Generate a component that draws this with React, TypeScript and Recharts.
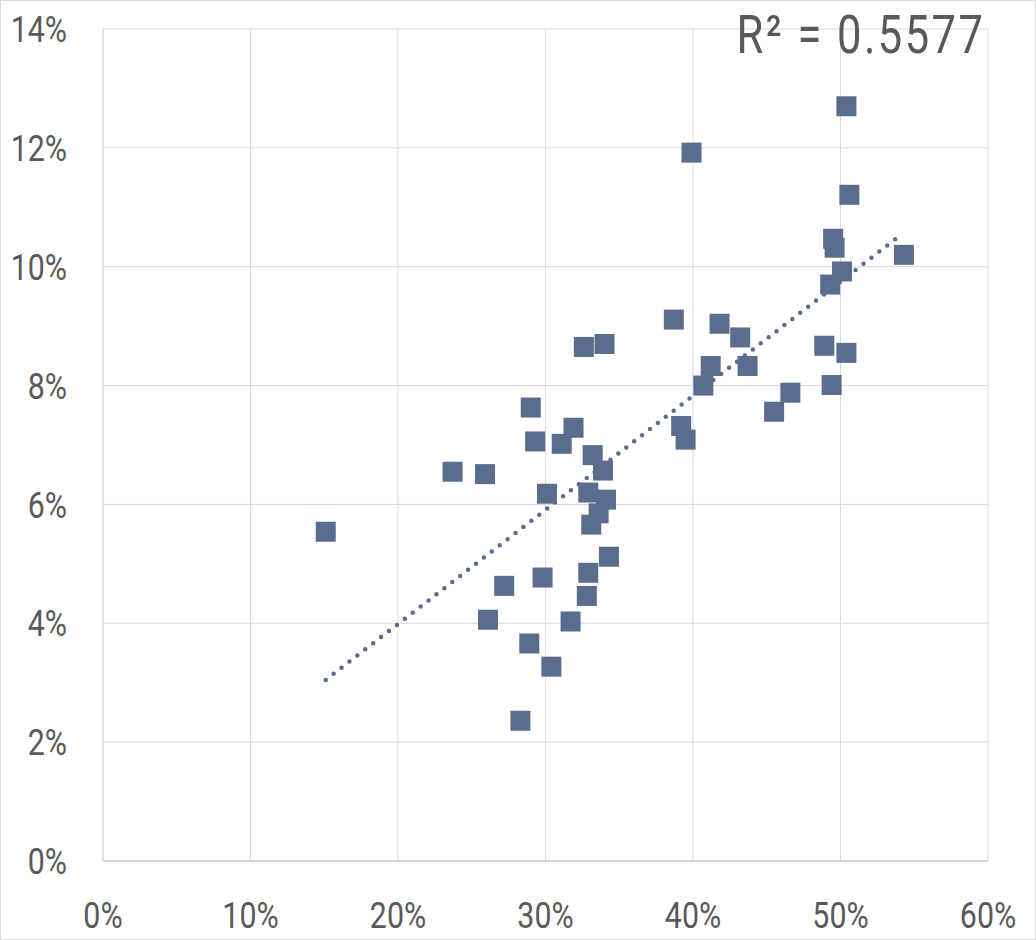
import React from "react";
import {
  ScatterChart,
  Scatter,
  XAxis,
  YAxis,
  CartesianGrid,
  ReferenceLine,
} from "recharts";

// values in percent
const xValues = [
  15.1, 23.7, 25.9, 26.1, 27.2, 28.3, 28.9, 29.0, 29.3, 29.8, 30.1, 30.4,
  31.1, 31.7, 31.9, 32.6, 32.8, 32.9, 32.9, 33.1, 33.2, 33.6, 33.9, 34.0,
  34.1, 34.3, 38.7, 39.2, 39.5, 39.9, 40.7, 41.2, 41.8, 43.2, 43.7, 45.5,
  46.6, 48.9, 49.3, 49.4, 49.5, 49.6, 50.1, 50.4, 50.4, 50.6, 54.3,
];
const yValues = [
  5.54, 6.55, 6.51, 4.06, 4.63, 2.36, 3.66, 7.63, 7.06, 4.77, 6.18, 3.27,
  7.02, 4.03, 7.29, 8.65, 4.46, 6.20, 4.85, 5.66, 6.83, 5.85, 6.57, 8.70,
  6.08, 5.12, 9.11, 7.32, 7.09, 11.92, 8.00, 8.33, 9.04, 8.81, 8.33, 7.56,
  7.88, 8.67, 9.70, 8.01, 10.47, 10.32, 9.92, 8.55, 12.70, 11.21, 10.20,
];
const xTicks = [0, 10, 20, 30, 40, 50, 60];
const yTicks = [0, 2, 4, 6, 8, 10, 12, 14];
const rSquaredLabel = "R² = 0.5577";

const points = xValues.map((x, i) => ({ x, y: yValues[i] }));

// linear least-squares trendline over the points
const n = points.length;
const meanX = xValues.reduce((a, b) => a + b, 0) / n;
const meanY = yValues.reduce((a, b) => a + b, 0) / n;
let sxy = 0;
let sxx = 0;
points.forEach((p) => {
  sxy += (p.x - meanX) * (p.y - meanY);
  sxx += (p.x - meanX) * (p.x - meanX);
});
const slope = sxy / sxx;
const intercept = meanY - slope * meanX;
const minX = Math.min(...xValues);
const maxX = Math.max(...xValues);
const trend = [
  { x: minX, y: intercept + slope * minX },
  { x: maxX - 0.3, y: intercept + slope * (maxX - 0.3) },
];

const COLOR = "#5a6d8e";
const TEXT = "#595959";
const FONT = "Roboto, 'DejaVu Sans', sans-serif";
const SQUEEZE = 0.82;

const SquareDot = (props: any) => {
  const { cx, cy } = props;
  if (cx == null || cy == null) return null;
  return <rect x={cx - 10} y={cy - 10} width={20} height={20} fill={COLOR} />;
};

// condensed tick text (the original uses a DIN-like narrow face)
const XTick = (props: any) => {
  const { x, y, payload } = props;
  return (
    <text
      transform={`translate(${x},${y}) scale(${SQUEEZE},1)`}
      textAnchor="middle"
      dy="0.71em"
      fontSize={37}
      fontFamily={FONT}
      fill={TEXT}
    >
      {`${payload.value}%`}
    </text>
  );
};

const YTick = (props: any) => {
  const { x, y, payload } = props;
  return (
    <text
      transform={`translate(${x},${y}) scale(${SQUEEZE},1)`}
      textAnchor="end"
      dy="0.355em"
      fontSize={37}
      fontFamily={FONT}
      fill={TEXT}
    >
      {`${payload.value}%`}
    </text>
  );
};

export default function App() {
  return (
    <div
      style={{
        position: "absolute",
        left: 0,
        top: 0,
        width: 1036,
        height: 940,
        background: "#fff",
        fontFamily: FONT,
      }}
    >
      <ScatterChart
        width={1036}
        height={940}
        margin={{ top: 29, right: 48, left: 0, bottom: 0 }}
      >
        <CartesianGrid stroke="#d9d9d9" strokeWidth={1} />
        <XAxis
          type="number"
          dataKey="x"
          domain={[0, 60]}
          ticks={xTicks}
          height={79}
          tickLine={false}
          tickSize={0}
          tickMargin={41}
          axisLine={{ stroke: "#bfbfbf" }}
          tick={<XTick />}
        />
        <YAxis
          type="number"
          dataKey="y"
          domain={[0, 14]}
          ticks={yTicks}
          width={103}
          tickLine={false}
          tickSize={0}
          tickMargin={36}
          axisLine={{ stroke: "#d9d9d9" }}
          tick={<YTick />}
        />
        <ReferenceLine
          segment={trend}
          stroke={COLOR}
          strokeWidth={4.5}
          strokeDasharray="0 10"
          strokeLinecap="round"
          ifOverflow="visible"
        />
        <Scatter
          data={points}
          shape={SquareDot}
          fill={COLOR}
          isAnimationActive={false}
        />
      </ScatterChart>
      <div
        style={{
          position: "absolute",
          right: 51,
          top: 4,
          fontSize: 53,
          lineHeight: "62px",
          letterSpacing: 3,
          color: TEXT,
          whiteSpace: "nowrap",
          transform: `scaleX(${SQUEEZE})`,
          transformOrigin: "right center",
        }}
      >
        {rSquaredLabel}
      </div>
      <div
        style={{
          position: "absolute",
          inset: 0,
          border: "1px solid #d9d9d9",
          pointerEvents: "none",
        }}
      />
    </div>
  );
}
